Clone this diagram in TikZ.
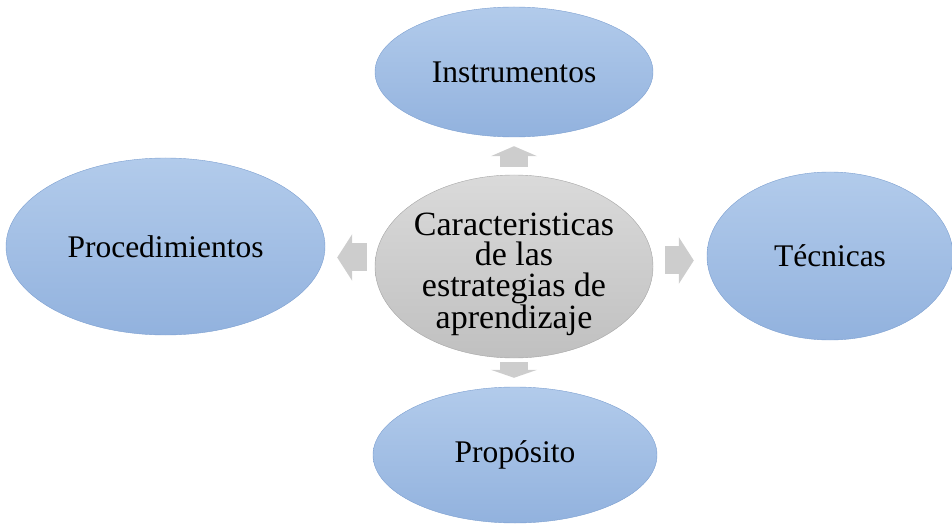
\documentclass[tikz,border=0pt]{standalone}
\usepackage{fontspec}
\setmainfont{Liberation Serif}
\usepackage{tikz}
\usetikzlibrary{shapes.geometric, arrows.meta}

\definecolor{blueTop}{HTML}{B2CBEB}
\definecolor{blueBot}{HTML}{92B2DE}
\definecolor{blueEdge}{HTML}{7C9FD0}
\definecolor{grayTop}{HTML}{DADADA}
\definecolor{grayBot}{HTML}{C0C0C0}
\definecolor{grayEdge}{HTML}{A5A5A5}
\definecolor{arrowGray}{HTML}{CDCDCD}

\tikzset{
    item/.style={ellipse, draw=blueEdge, top color=blueTop, bottom color=blueBot,
        inner sep=0pt, font=\fontsize{31.5}{34}\selectfont},
    centre/.style={ellipse, draw=grayEdge, top color=grayTop, bottom color=grayBot,
        inner xsep=-12pt, inner ysep=-8pt, align=center, font=\fontsize{34}{30.5}\selectfont},
    blockarrow/.style={arrowGray, line width=28pt, -{Triangle[width=46pt, length=#1]}},
    blockarrow/.default=14pt
}

\begin{document}
\begin{tikzpicture}[x=1pt, y=-1pt]
    \useasboundingbox (0,0) rectangle (952,526);

    \node[centre, minimum width=278pt, minimum height=183pt] (c) at (514,266.5)
        {\rule{0pt}{38pt}Caracteristicas\\de las\\estrategias de\\aprendizaje};

    \node[item, minimum width=278pt, minimum height=130pt] (instr) at (514,72) {Instrumentos};
    \node[item, minimum width=319pt, minimum height=177pt] (proc) at (165.5,246.5) {Procedimientos};
    \node[item, minimum width=246pt, minimum height=168pt] (tec) at (830,256) {Técnicas};
    \node[item, minimum width=284pt, minimum height=136pt] (prop) at (515,455) {Propósito};

    \draw [blockarrow=10pt, shorten <=8pt, shorten >=9pt] (c.north) -- (c.north |- instr.south);
    \draw [blockarrow=8pt, shorten <=4pt, shorten >=9pt] (c.south) -- (c.south |- prop.north);
    \draw [blockarrow=15pt, shorten <=12pt, shorten >=13pt] (c.east |- 0,260.5) -- (tec.west |- 0,260.5);
    \draw [blockarrow=15pt, shorten <=8pt, shorten >=12pt] (c.west |- 0,257.5) -- (proc.east |- 0,257.5);
    %\draw [blockarrow] (c) -- (proc);
\end{tikzpicture}
\end{document}
